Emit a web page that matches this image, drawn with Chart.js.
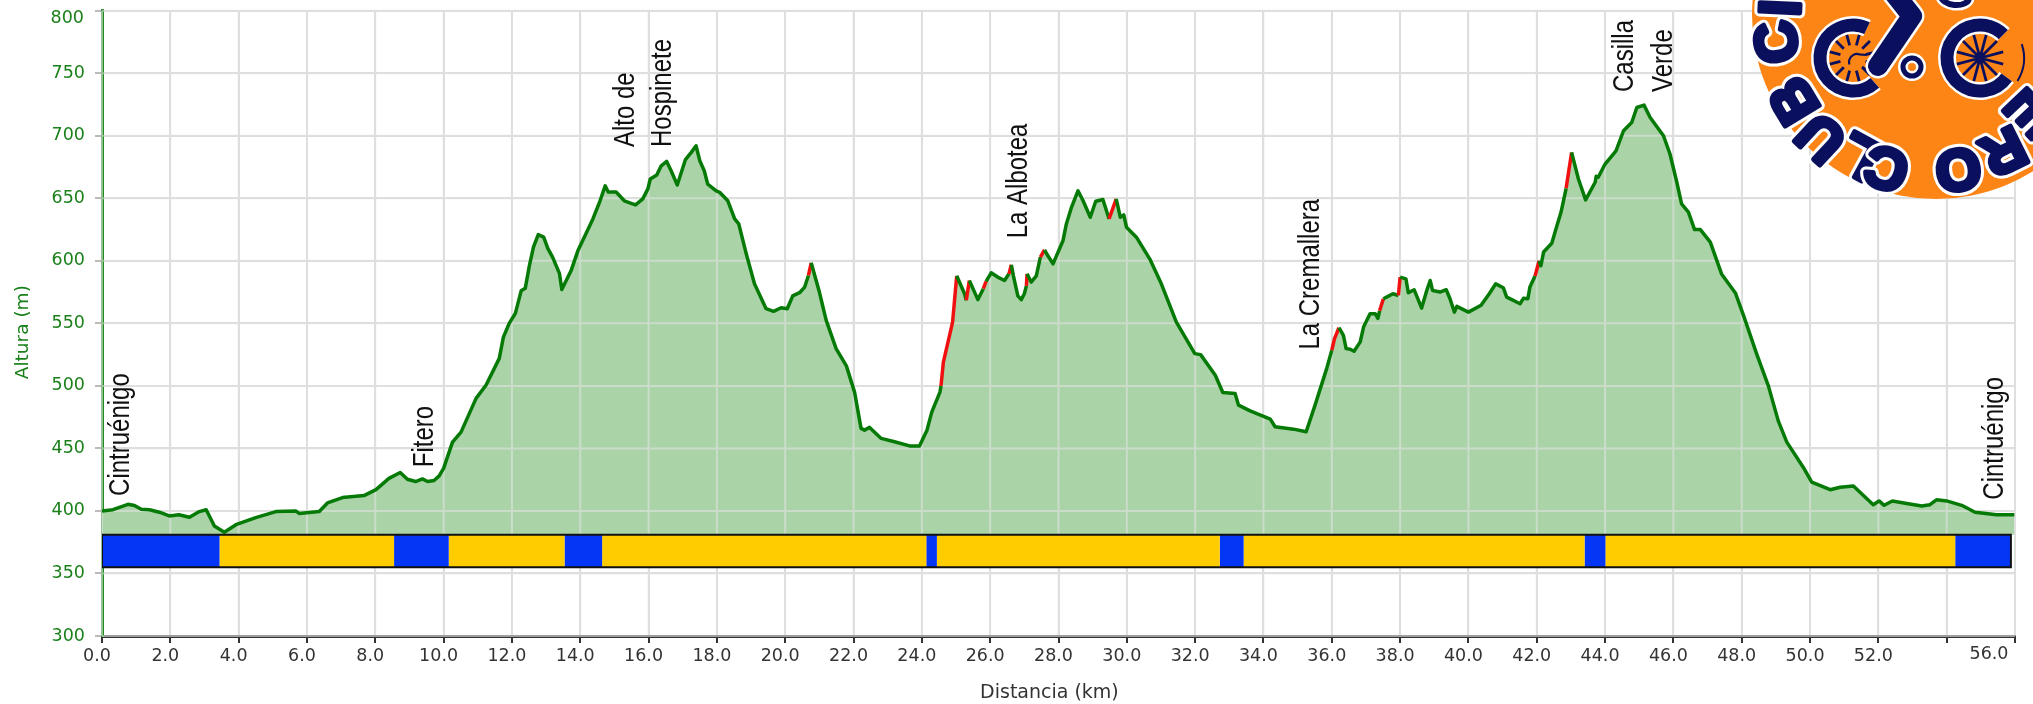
<!DOCTYPE html>
<html>
<head>
<meta charset="utf-8">
<title>Perfil Cintruénigo</title>
<script src="https://cdn.jsdelivr.net/npm/chart.js@4/dist/chart.umd.min.js"></script>
<style>
  html, body { margin: 0; padding: 0; background: #fff; }
  canvas { display: block; }
</style>
</head>
<body>
<canvas id="perfil" width="2033" height="704"></canvas>
<script>
const distancias = [
  0, 0.32, 0.76, 0.95, 1.15, 1.39, 1.68, 1.97, 2.25, 2.56, 2.85, 3.05, 3.29, 3.58, 3.92, 4.5, 5.09, 5.67, 5.77, 6.36,
  6.6, 7.04, 7.67, 8.02, 8.4, 8.73, 8.94, 9.18, 9.38, 9.53, 9.72, 9.87, 10, 10.26, 10.51, 10.95, 11.24, 11.63, 11.75, 11.92,
  12.1, 12.27, 12.39, 12.51, 12.63, 12.77, 12.93, 13.05, 13.19, 13.39, 13.46, 13.73, 13.93, 14.37, 14.58, 14.73, 14.82, 15.05, 15.29, 15.49,
  15.62, 15.83, 15.98, 16.05, 16.24, 16.37, 16.53, 16.66, 16.84, 17.08, 17.25, 17.39, 17.5, 17.63, 17.73, 17.98, 18.08, 18.32, 18.52, 18.64,
  18.86, 19.1, 19.44, 19.66, 19.88, 20.06, 20.22, 20.42, 20.57, 20.68, 20.76, 21, 21.2, 21.49, 21.79, 22.03, 22.22, 22.32, 22.47, 22.81,
  23.2, 23.64, 23.93, 24.15, 24.29, 24.53, 24.56, 24.63, 24.9, 25.02, 25.25, 25.3, 25.39, 25.64, 25.8, 25.88, 26.03, 26.22, 26.42, 26.55,
  26.62, 26.68, 26.81, 26.91, 27, 27.06, 27.08, 27.2, 27.35, 27.47, 27.59, 27.69, 27.84, 28.13, 28.23, 28.38, 28.57, 28.72, 28.93, 29.09,
  29.3, 29.48, 29.69, 29.81, 29.91, 29.99, 30.28, 30.67, 31.01, 31.45, 31.99, 32.16, 32.59, 32.81, 33.17, 33.27, 33.61, 34.2, 34.34, 34.88,
  35.25, 35.51, 35.85, 36, 36.08, 36.21, 36.34, 36.42, 36.54, 36.65, 36.83, 36.93, 37.12, 37.27, 37.35, 37.4, 37.51, 37.66, 37.79, 37.95,
  38, 38.17, 38.24, 38.41, 38.63, 38.78, 38.88, 38.95, 39.17, 39.35, 39.46, 39.59, 39.66, 40, 40.37, 40.61, 40.8, 41.02, 41.12, 41.27,
  41.51, 41.61, 41.74, 41.8, 41.95, 42.07, 42.12, 42.2, 42.44, 42.59, 42.71, 42.86, 43.02, 43.22, 43.43, 43.71, 43.74, 43.8, 44, 44.32,
  44.54, 44.78, 44.93, 45.14, 45.32, 45.71, 45.9, 46.1, 46.24, 46.44, 46.62, 46.79, 47.08, 47.41, 47.82, 48.07, 48.44, 48.78, 49.07, 49.32,
  49.8, 50.05, 50.59, 50.88, 51.27, 51.85, 52.02, 52.17, 52.41, 52.83, 53.27, 53.51, 53.71, 54, 54.44, 54.83, 55.46, 55.98
];
const alturas = [
  400, 401, 405.3, 404.3, 401.3, 401, 399, 396, 397, 395, 399.5, 401, 388, 383, 389, 394.7, 399.5, 400, 398, 399.5,
  406.4, 410.7, 412.3, 417, 426, 430.7, 425.3, 423.5, 425.6, 423.5, 424.3, 428, 434, 455, 463, 490, 500.5, 522, 539, 550,
  558, 576, 578, 596, 611, 621, 619, 610, 603, 590, 577, 592, 608, 633.5, 648, 660, 655, 655, 648, 646,
  644.7, 649.5, 657.5, 665.4, 668.6, 676, 679.5, 672, 660.6, 681, 686.7, 692, 680, 672, 661.4, 656, 654.8, 648, 633.5, 629.5,
  605.6, 581.6, 561.7, 559.6, 562.5, 561.7, 572, 574.5, 579, 588.3, 598.4, 575, 552.4, 529.8, 516, 495, 466, 464.6, 466.8, 458,
  455.3, 452, 452, 464.6, 479, 495, 500, 519, 551, 588, 573.7, 568.4, 584.3, 569, 577.7, 583.5, 590.4, 587, 584.3, 589.6,
  596.8, 588, 572, 569, 573.7, 580, 589.6, 583, 588, 603, 608.8, 604, 597.6, 616, 629.5, 642.8, 656, 648, 634.8, 647.6,
  649, 633.5, 649.5, 634.8, 636.7, 626.9, 618.9, 601.6, 581.6, 551, 525.8, 525, 508.5, 494.7, 493.9, 484.6, 480, 473.4, 467.3, 465.4,
  463.3, 484.6, 513.8, 528.5, 537.8, 546.5, 540.4, 529.8, 529.3, 527.7, 535, 547, 557.7, 557.7, 554, 560, 569.7, 571.8, 573.7, 572.3,
  587, 585.6, 574.5, 576.9, 562.2, 576.3, 584.3, 576.3, 575, 576.9, 569.7, 559, 563.6, 559, 564.5, 573.7, 581.6, 578.5, 571, 569,
  565.7, 570, 569.7, 579, 587.8, 600, 596, 607, 614, 628, 638.8, 658, 686.7, 665.4, 648.7, 662.8, 667.6, 666.8, 677.4, 688,
  704, 710.6, 722.6, 724.5, 714.6, 700, 685.4, 662.8, 645.5, 639, 625, 625, 615, 589.5, 574, 555, 525.4, 500, 472, 455,
  435, 423, 417, 419, 420, 405, 408, 404.5, 408, 406, 404, 405, 409, 408, 404.5, 399, 397, 397
];

// tramos del perfil marcados en rojo (km)
const tramosRojos = [
  [20.68, 20.76], [24.56, 25.02], [25.3, 25.39], [25.8, 25.88], [26.55, 26.62], [27.06, 27.08], [27.47, 27.59],
  [29.48, 29.69], [36, 36.21], [37.4, 37.51], [37.95, 38], [41.95, 42.07], [42.86, 43.02]
];

// banda inferior: limites en km y tipo de cada tramo
const bandaLimites = [0, 3.44, 8.55, 10.15, 13.54, 14.64, 24.13, 24.44, 32.72, 33.42, 43.4, 44.01, 54.25, 55.88];
const bandaTipos = ['azul', 'amarillo', 'azul', 'amarillo', 'azul', 'amarillo', 'azul', 'amarillo', 'azul', 'amarillo', 'azul', 'amarillo', 'azul'];

// rotulos de los puntos del recorrido
const puntosNombre = ['Cintruénigo', 'Fitero', 'Alto de', 'Hospinete', 'La Albotea', 'La Cremallera', 'Casilla', 'Verde', 'Cintruénigo'];
const puntosKm = [0.79, 9.69, 15.57, 16.66, 27.08, 35.63, 44.82, 45.95, 55.65];
const puntosAltura = [412, 435, 691, 691, 618, 529, 735, 735, 409];

const xMarcasOcultas = [54, 56];
const yMarcasOcultas = [800];

const VERDE = '#067a06';
const VERDE_TEXTO = '#1a801a';
const ROJO = '#f01010';
const RELLENO = '#aad4a8';
const GRIS = '#dcdcdc';
const COLORES_BANDA = { azul: '#0536f5', amarillo: '#ffcc00' };
const FUENTE = '"DejaVu Sans", Verdana, sans-serif';

const esRojo = (km) => tramosRojos.some(([a, b]) => km >= a && km < b);
const perfil = distancias.map((km, i) => ({ x: km, y: alturas[i] }));

const BANDA_ARRIBA = 381;
const BANDA_ABAJO = 355;

function rectangulo(a, b) {
    return [
        { x: a, y: BANDA_ABAJO }, { x: a, y: BANDA_ARRIBA },
        { x: b, y: BANDA_ARRIBA }, { x: b, y: BANDA_ABAJO }, { x: a, y: BANDA_ABAJO }
    ];
}

const datasetsBanda = bandaTipos.map((tipo, i) => ({
    data: rectangulo(bandaLimites[i], bandaLimites[i + 1]),
    fill: 'shape',
    backgroundColor: COLORES_BANDA[tipo],
    borderWidth: 0,
    pointRadius: 0,
    tension: 0,
    order: 3
}));

// la rejilla se ve clara por encima del relleno verde, pero por debajo de la linea
const rejillaSobreRelleno = {
    id: 'rejillaSobreRelleno',
    afterDatasetDraw(chart, args) {
        if (args.index !== 0) return;
        const { ctx, chartArea, scales } = chart;
        ctx.save();
        ctx.strokeStyle = 'rgba(222, 226, 222, 0.62)';
        ctx.lineWidth = 2;
        ctx.beginPath();
        scales.x.ticks.forEach((t) => {
            const px = scales.x.getPixelForValue(t.value);
            ctx.moveTo(px, chartArea.top);
            ctx.lineTo(px, chartArea.bottom);
        });
        scales.y.ticks.forEach((t) => {
            const py = scales.y.getPixelForValue(t.value);
            ctx.moveTo(chartArea.left, py);
            ctx.lineTo(chartArea.right, py);
        });
        ctx.stroke();
        ctx.restore();
    }
};

function dibujarLogo(ctx) {
    const AZUL = '#0a0f5e';
    const NARANJA = '#fd8516';
    ctx.save();
    ctx.beginPath();
    ctx.arc(1936, 15, 184, 0, Math.PI * 2);
    ctx.fillStyle = NARANJA;
    ctx.fill();
    ctx.lineCap = 'butt';

    const trazo = (dibuja, ancho) => {
        ctx.beginPath();
        dibuja();
        ctx.strokeStyle = '#fff';
        ctx.lineWidth = ancho + 5;
        ctx.stroke();
        ctx.beginPath();
        dibuja();
        ctx.strokeStyle = AZUL;
        ctx.lineWidth = ancho;
        ctx.stroke();
    };

    // ruedas
    [[1853, 58, 0.27, -0.36], [1980, 58, 0.2, -0.25]].forEach(([cx, cy, fin, ini]) => {
        trazo(() => ctx.arc(cx, cy, 33, fin * Math.PI, (2 + ini) * Math.PI), 13);
        ctx.strokeStyle = AZUL;
        ctx.lineWidth = 2.8;
        ctx.beginPath();
        const hueco = cx < 1900 ? 13 : 0;
        for (let i = 0; i < 12; i++) {
            const a = (i + 0.5) * Math.PI / 6;
            ctx.moveTo(cx + hueco * Math.cos(a), cy + hueco * Math.sin(a));
            ctx.lineTo(cx + 24 * Math.cos(a), cy + 24 * Math.sin(a));
        }
        ctx.stroke();
    });
    ctx.fillStyle = AZUL;
    ctx.beginPath();
    ctx.arc(1980, 58, 4, 0, Math.PI * 2);
    ctx.fill();
    ctx.strokeStyle = AZUL;
    ctx.lineWidth = 2;
    ctx.beginPath();
    ctx.arc(1980, 58, 44, -0.32, 0.55);
    ctx.stroke();
    ctx.lineWidth = 2.2;
    ctx.beginPath();
    ctx.moveTo(1866, 55);
    ctx.arc(1857, 62, 8, -0.4 * Math.PI, 0.9 * Math.PI, true);
    ctx.moveTo(1862, 67);
    ctx.lineTo(1880, 76);
    ctx.stroke();

    // cuadro de la bici
    ctx.lineJoin = 'round';
    ctx.lineCap = 'round';
    trazo(() => { ctx.moveTo(1878, 66); ctx.lineTo(1912, 16); ctx.lineTo(1893, -8); }, 20);
    ctx.lineCap = 'butt';
    trazo(() => ctx.arc(1912, 67, 9, 0, Math.PI * 2), 5);
    trazo(() => ctx.ellipse(1955, -3, 14, 8, 0.1, 0, Math.PI * 2), 6);

    // letras del anillo, con la parte de arriba hacia fuera
    const letras = [['C', 1778, 42], ['I', 1782, 8], ['B', 1795, 100], ['U', 1822, 137], ['L', 1860, 155], ['C', 1887, 167], ['O', 1958, 168], ['R', 2003, 150], ['E', 2028, 112]];
    ctx.font = 'bold 58px "Liberation Sans", sans-serif';
    ctx.textAlign = 'center';
    ctx.textBaseline = 'middle';
    letras.forEach(([letra, x, y]) => {
        ctx.save();
        ctx.translate(x, y);
        ctx.rotate(Math.atan2(x - 1936, 15 - y));
        ctx.strokeStyle = '#fff';
        ctx.lineWidth = 11;
        ctx.strokeText(letra, 0, 2);
        ctx.strokeStyle = AZUL;
        ctx.lineWidth = 5;
        ctx.strokeText(letra, 0, 2);
        ctx.fillStyle = AZUL;
        ctx.fillText(letra, 0, 2);
        ctx.restore();
    });
    ctx.restore();
}

const rotulosYLogo = {
    id: 'rotulosYLogo',
    afterDraw(chart) {
        const { ctx, scales } = chart;
        ctx.save();
        ctx.fillStyle = '#111';
        ctx.font = '30px "Liberation Sans", Arial, sans-serif';
        ctx.textAlign = 'left';
        ctx.textBaseline = 'alphabetic';
        puntosNombre.forEach((nombre, i) => {
            ctx.save();
            ctx.translate(scales.x.getPixelForValue(puntosKm[i]), scales.y.getPixelForValue(puntosAltura[i]));
            ctx.rotate(-Math.PI / 2);
            ctx.scale(0.8, 1); // letra estrecha
            ctx.fillText(nombre, 0, 0);
            ctx.restore();
        });
        // la ultima marca de cada eje va desplazada hacia dentro
        ctx.fillStyle = '#333';
        ctx.font = '17.5px ' + FUENTE;
        ctx.textAlign = 'center';
        ctx.textBaseline = 'middle';
        ctx.fillText('56.0', scales.x.getPixelForValue(56) - 26, 654);
        ctx.fillStyle = VERDE_TEXTO;
        ctx.textAlign = 'right';
        ctx.fillText('800', 84, scales.y.getPixelForValue(800) + 8);
        ctx.restore();
        dibujarLogo(ctx);
    }
};

new Chart(document.getElementById('perfil').getContext('2d'), {
    type: 'line',
    data: {
        datasets: [
            {
                label: 'Relleno',
                data: perfil,
                fill: { value: BANDA_ARRIBA },
                backgroundColor: RELLENO,
                borderWidth: 0,
                pointRadius: 0,
                tension: 0,
                order: 5
            },
            ...datasetsBanda,
            {
                label: 'Marco banda',
                data: rectangulo(0, bandaLimites[bandaLimites.length - 1]),
                fill: false,
                borderColor: '#111',
                borderWidth: 2,
                pointRadius: 0,
                tension: 0,
                order: 2
            },
            {
                label: 'Altura',
                data: perfil,
                fill: false,
                borderColor: VERDE,
                borderWidth: 3.5,
                borderJoinStyle: 'round',
                pointRadius: 0,
                tension: 0,
                order: 1,
                segment: {
                    borderColor: (c) => (esRojo(c.p0.parsed.x) ? ROJO : VERDE)
                }
            }
        ]
    },
    options: {
        responsive: false,
        animation: false,
        layout: { padding: { top: 10.7, right: 18, left: 0, bottom: 0 } },
        plugins: { legend: { display: false }, tooltip: { enabled: false } },
        scales: {
            x: {
                type: 'linear',
                min: 0,
                max: 56,
                afterFit: (s) => { s.height = 68; },
                border: { color: '#333', width: 3 },
                grid: { color: GRIS, lineWidth: 2, tickColor: '#333', tickLength: 7, tickWidth: 2 },
                ticks: {
                    stepSize: 2,
                    autoSkip: false,
                    maxRotation: 0,
                    labelOffset: -5,
                    padding: 3,
                    color: '#333',
                    font: { family: FUENTE, size: 17.5 },
                    callback: (v) => (xMarcasOcultas.includes(v) ? '' : v.toFixed(1))
                },
                title: {
                    display: true,
                    // espacios finales para correr el titulo un poco a la izquierda
                    text: 'Distancia (km)   ',
                    color: '#333',
                    font: { family: FUENTE, size: 19 },
                    padding: { top: 5, bottom: 0 }
                }
            },
            y: {
                min: 300,
                max: 800,
                // el relleno superior por defecto incluye el padding de las marcas
                afterFit: (s) => { s.width = 102; s.paddingTop = 0; },
                border: { color: '#1d8a1d', width: 3 },
                grid: { color: GRIS, lineWidth: 2, tickColor: '#bbb', tickLength: 7 },
                ticks: {
                    stepSize: 50,
                    padding: 10,
                    color: VERDE_TEXTO,
                    font: { family: FUENTE, size: 17.5 },
                    callback: (v) => (yMarcasOcultas.includes(v) ? '' : v)
                },
                title: {
                    display: true,
                    text: 'Altura (m)   ',
                    color: VERDE_TEXTO,
                    font: { family: FUENTE, size: 18.5 },
                    padding: { top: 12, bottom: 8 }
                }
            }
        }
    },
    plugins: [rejillaSobreRelleno, rotulosYLogo]
});
</script>
</body>
</html>
